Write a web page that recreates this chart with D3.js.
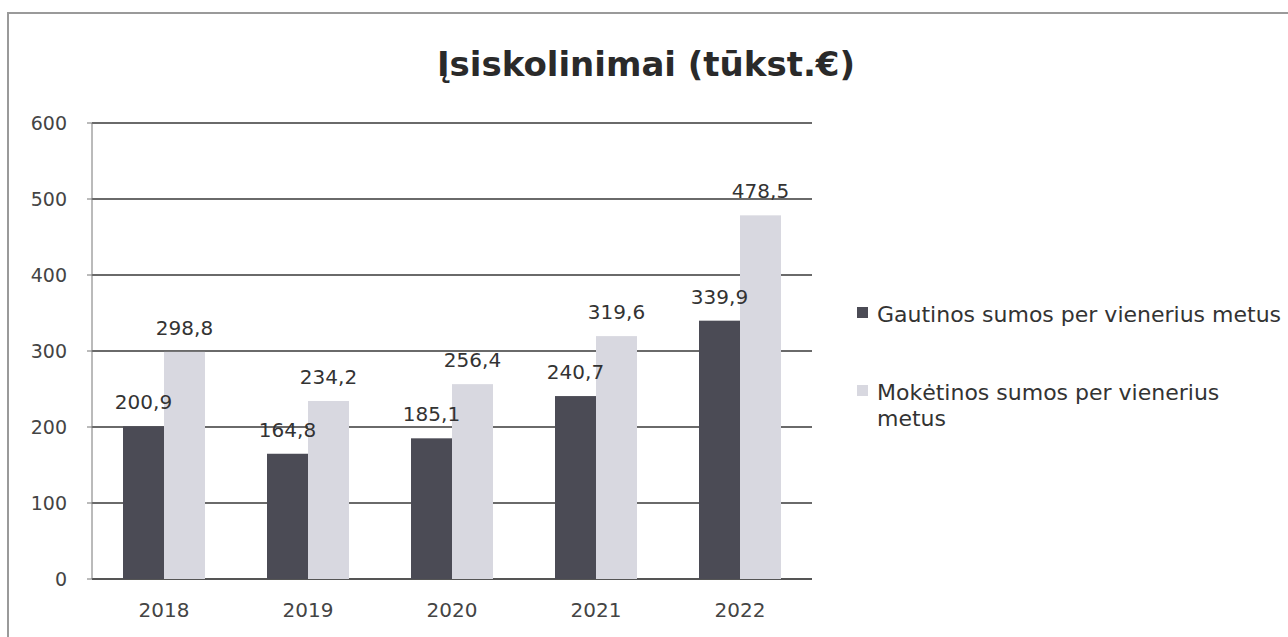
<!DOCTYPE html>
<html><head><meta charset="utf-8">
<script src="https://cdn.jsdelivr.net/npm/d3@7"></script>
<style>body{margin:0;background:#fff}svg{display:block}</style>
</head><body>
<svg id="c" width="1288" height="637"></svg>
<script>
const categories = ["2018","2019","2020","2021","2022"];
const seriesNames = ["Gautinos sumos per vienerius metus","Mokėtinos sumos per vienerius metus"];
const gautinos = [200.9,164.8,185.1,240.7,339.9];
const moketinos = [298.8,234.2,256.4,319.6,478.5];
const yTicks = [0,100,200,300,400,500,600];
const title = "Įsiskolinimai (tūkst.€)";
const colors = ["#4b4b55","#d8d8e0"];

const svg = d3.select("#c");
const font = "'DejaVu Sans', Verdana, sans-serif";
svg.append("rect").attr("x",8).attr("y",13).attr("width",1292).attr("height",640)
  .attr("fill","#fff").attr("stroke","#9a9a9a").attr("stroke-width",2);

const m = {l:92, r:812, t:123, b:579};
const x = d3.scaleBand().domain(categories).range([m.l,m.r]).paddingInner(0).paddingOuter(0);
const y = d3.scaleLinear().domain([0,600]).range([m.b,m.t]);
const bw = 41;

svg.append("text").attr("x",646).attr("y",76).attr("text-anchor","middle")
  .attr("font-family",font).attr("font-weight","bold").attr("font-size",34).attr("fill","#2a2a2a").text(title);

// gridlines
svg.append("g").selectAll("line").data(yTicks).join("line")
  .attr("x1",m.l).attr("x2",m.r).attr("y1",d=>y(d)).attr("y2",d=>y(d))
  .attr("stroke",d=>d===0?"#555":"#6a6a6a").attr("stroke-width",2);
svg.append("line").attr("x1",m.l).attr("x2",m.l).attr("y1",m.t).attr("y2",m.b).attr("stroke","#777").attr("stroke-width",1);
svg.append("g").selectAll("line").data(yTicks).join("line")
  .attr("x1",m.l-5).attr("x2",m.l).attr("y1",d=>y(d)).attr("y2",d=>y(d)).attr("stroke","#777");

// y axis labels
const yAxis = d3.axisLeft(y).tickValues(yTicks).tickSize(0).tickPadding(0);
const gy = svg.append("g").attr("transform",`translate(67,0)`).call(yAxis);
gy.select(".domain").remove();
gy.selectAll("text").attr("font-family",font).attr("font-size",19).attr("fill","#444");

const xAxis = d3.axisBottom(x).tickSize(0).tickPadding(0);
const gx = svg.append("g").attr("transform",`translate(0,${m.b+24})`).call(xAxis);
gx.select(".domain").remove();
gx.selectAll("text").attr("font-family",font).attr("font-size",20).attr("fill","#444");

const series = [gautinos, moketinos];
const cx = (si,i)=> x(categories[i]) + x.bandwidth()/2 + (si===0 ? -bw : 0);
series.forEach((vals,si)=>{
  svg.append("g").selectAll("rect").data(vals).join("rect")
    .attr("x",(d,i)=>cx(si,i)).attr("width",bw)
    .attr("y",d=>y(d)).attr("height",d=>m.b-y(d)).attr("fill",colors[si]);
});
series.forEach((vals,si)=>{
  svg.append("g").selectAll("text").data(vals).join("text")
    .attr("x",(d,i)=>cx(si,i)+bw/2).attr("y",d=>y(d)-17)
    .attr("text-anchor","middle").attr("font-family",font).attr("font-size",20).attr("fill","#333")
    .text(d=>d.toFixed(1).replace(".",","));
});

// legend
const lg = svg.append("g").attr("font-family",font).attr("font-size",22).attr("fill","#333");
lg.append("rect").attr("x",857).attr("y",307).attr("width",11).attr("height",11).attr("fill",colors[0]);
lg.append("text").attr("x",877).attr("y",322).text(seriesNames[0]);
lg.append("rect").attr("x",857).attr("y",385).attr("width",11).attr("height",11).attr("fill",colors[1]);
lg.append("text").attr("x",877).attr("y",400).text("Mokėtinos sumos per vienerius");
lg.append("text").attr("x",877).attr("y",426).text("metus");
</script>
</body></html>
